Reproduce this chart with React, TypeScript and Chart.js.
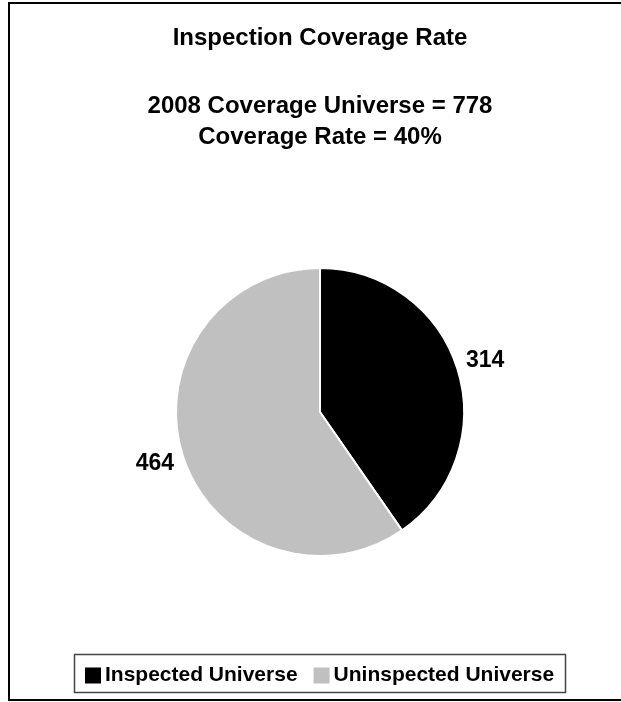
import React, { useEffect, useRef } from "react";
import { Chart, registerables } from "chart.js";

Chart.register(...registerables);

const categories = ["Inspected Universe", "Uninspected Universe"];
const counts = [314, 464];
const sliceColors = ["#000000", "#C0C0C0"];
const titleText = "Inspection Coverage Rate";
const subtitleLines = ["2008 Coverage Universe = 778", "Coverage Rate = 40%"];

const FONT = '"Liberation Sans", Arial, Helvetica, sans-serif';

const sliceLabels = {
  id: "sliceLabels",
  afterDatasetsDraw(chart: any) {
    const ctx = chart.ctx;
    const meta = chart.getDatasetMeta(0);
    const values = chart.data.datasets[0].data;
    ctx.save();
    ctx.font = `bold 23px ${FONT}`;
    ctx.fillStyle = "#000";
    ctx.textAlign = "center";
    ctx.textBaseline = "middle";
    meta.data.forEach((arc: any, i: number) => {
      const p = arc.getProps(["x", "y", "startAngle", "endAngle", "outerRadius"], true);
      const mid = (p.startAngle + p.endAngle) / 2;
      const r = p.outerRadius + 29;
      ctx.fillText(String(values[i]), p.x + Math.cos(mid) * r, p.y + Math.sin(mid) * r);
    });
    ctx.restore();
  },
};

const boxedLegend = {
  id: "boxedLegend",
  afterDraw(chart: any) {
    const ctx = chart.ctx;
    const labels: string[] = chart.data.labels;
    const colors: string[] = chart.data.datasets[0].backgroundColor;
    const sq = 16;
    const gapText = 4;
    const gapItem = 16;
    const padX = 11;
    ctx.save();
    ctx.font = `bold 21px ${FONT}`;
    const widths = labels.map((l) => ctx.measureText(l).width);
    const itemsW = widths.reduce((a, w) => a + sq + gapText + w, 0) + gapItem * (labels.length - 1);
    const boxW = itemsW + padX * 2;
    const cx = chart.width / 2;
    const boxTop = 650;
    const boxH = 38;
    const midY = boxTop + boxH / 2 + 2.5;
    const left = Math.round(cx - boxW / 2);
    ctx.lineWidth = 1.5;
    ctx.strokeStyle = "#444";
    ctx.strokeRect(left + 0.5, boxTop + 0.5, Math.round(boxW), boxH);
    let x = left + padX;
    ctx.textBaseline = "middle";
    ctx.textAlign = "left";
    labels.forEach((l, i) => {
      ctx.fillStyle = colors[i];
      ctx.fillRect(x, midY - sq / 2, sq, sq);
      x += sq + gapText;
      ctx.fillStyle = "#000";
      ctx.fillText(l, x, midY);
      x += widths[i] + gapItem;
    });
    ctx.restore();
  },
};

export default function App() {
  const ref = useRef<HTMLCanvasElement | null>(null);
  useEffect(() => {
    if (!ref.current) return;
    const chart = new Chart(ref.current, {
      type: "pie",
      data: {
        labels: categories,
        datasets: [
          {
            data: counts,
            backgroundColor: sliceColors,
            borderColor: "#ffffff",
            borderWidth: 2,
          },
        ],
      },
      options: {
        responsive: false,
        animation: false,
        radius: 144,
        layout: { padding: { top: 0, bottom: 27.25, left: 0, right: 0 } },
        plugins: {
          legend: { display: false },
          tooltip: { enabled: false },
          title: {
            display: true,
            text: titleText,
            color: "#000",
            font: { family: FONT, size: 24, weight: "bold", lineHeight: 1.2 },
            padding: { top: 19.6, bottom: 38.85 },
          },
          subtitle: {
            display: true,
            text: subtitleLines,
            color: "#000",
            font: { family: FONT, size: 24, weight: "bold", lineHeight: 1.27 },
            padding: { top: 0, bottom: 0 },
          },
        },
      } as any,
      plugins: [sliceLabels, boxedLegend],
    });
    return () => chart.destroy();
  }, []);

  return (
    <div style={{ position: "absolute", left: 0, top: 0, width: 621, height: 702, overflow: "hidden", background: "#fff" }}>
      <div
        style={{
          position: "absolute",
          left: 8,
          top: 2,
          width: 624,
          height: 699,
          border: "2px solid #000",
          boxSizing: "border-box",
        }}
      >
        <canvas ref={ref} width={620} height={695} style={{ display: "block", width: 620, height: 695 }} />
      </div>
    </div>
  );
}
